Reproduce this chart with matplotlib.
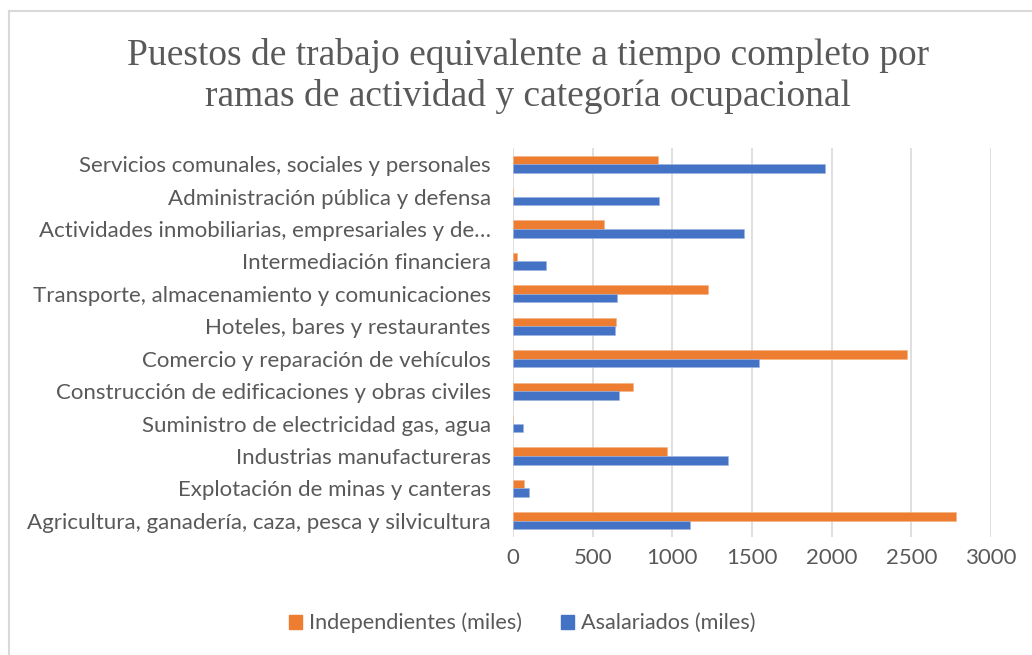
import matplotlib
matplotlib.use("Agg")
import matplotlib.pyplot as plt
from matplotlib.lines import Line2D
from matplotlib.patches import Patch
import numpy as np

# datos (de abajo hacia arriba)
ramas = [
    "Agricultura, ganadería, caza, pesca y silvicultura",
    "Explotación de minas y canteras",
    "Industrias manufactureras",
    "Suministro de electricidad gas, agua",
    "Construcción de edificaciones y obras civiles",
    "Comercio y reparación de vehículos",
    "Hoteles, bares y restaurantes",
    "Transporte, almacenamiento y comunicaciones",
    "Intermediación financiera",
    "Actividades inmobiliarias, empresariales y de…",
    "Administración pública y defensa",
    "Servicios comunales, sociales y personales",
]
independientes = [2779, 71, 967, 0, 751, 2475, 646, 1226, 23, 573, 0, 910]
asalariados = [1113, 102, 1348, 65, 663, 1544, 642, 651, 207, 1448, 914, 1959]

gris = "#595959"
naranja = "#ED7D31"
azul = "#4472C4"

fig = plt.figure(figsize=(10.32, 6.55), dpi=100)
ax = fig.add_axes([513 / 1032, 1 - 537 / 655, 478 / 1032, 389 / 655])

y = np.arange(len(ramas))
h = 0.265
ax.barh(y + h / 2, independientes, height=h, color=naranja, edgecolor="#F4B183", linewidth=0.4, zorder=3)
ax.barh(y - h / 2, asalariados, height=h, color=azul, edgecolor="#9DB4E0", linewidth=0.4, zorder=3)

ax.set_xlim(0, 3000)
ax.set_ylim(-0.5, len(ramas) - 0.5)
ax.set_xticks(np.arange(0, 3001, 500))
ax.set_yticks(y)
ax.set_yticklabels(ramas)
ax.grid(axis="x", color="#D9D9D9", linewidth=1.2, zorder=0)
for s in ax.spines.values():
    s.set_visible(False)
ax.tick_params(axis="both", length=0, colors=gris, labelsize=16)
ax.tick_params(axis="y", pad=16)
ax.tick_params(axis="x", pad=8)
for t in ax.get_xticklabels() + ax.get_yticklabels():
    t.set_fontfamily("Lato")

fig.text(528 / 1032, 1 - 76 / 655,
         "Puestos de trabajo equivalente a tiempo completo por\nramas de actividad y categoría ocupacional",
         ha="center", va="center", fontsize=27, family="Liberation Serif",
         color=gris, linespacing=1.22)

handles = [Patch(color=naranja), Patch(color=azul)]
fig.legend(handles, ["Independientes (miles)", "Asalariados (miles)"],
           loc="center", bbox_to_anchor=(522 / 1032, 1 - 623 / 655), ncol=2,
           frameon=False, handlelength=0.62, handleheight=0.62, handletextpad=0.3,
           columnspacing=1.8, prop={"family": "Lato", "size": 15.6}, labelcolor=gris)

# borde del gráfico
fig.add_artist(Line2D([8.5 / 1032, 8.5 / 1032], [0, 1 - 10.5 / 655], color="#D9D9D9", lw=1.5))
fig.add_artist(Line2D([8.5 / 1032, 1], [1 - 10.5 / 655, 1 - 10.5 / 655], color="#D9D9D9", lw=1.5))

fig.savefig("out.png", dpi=100)
